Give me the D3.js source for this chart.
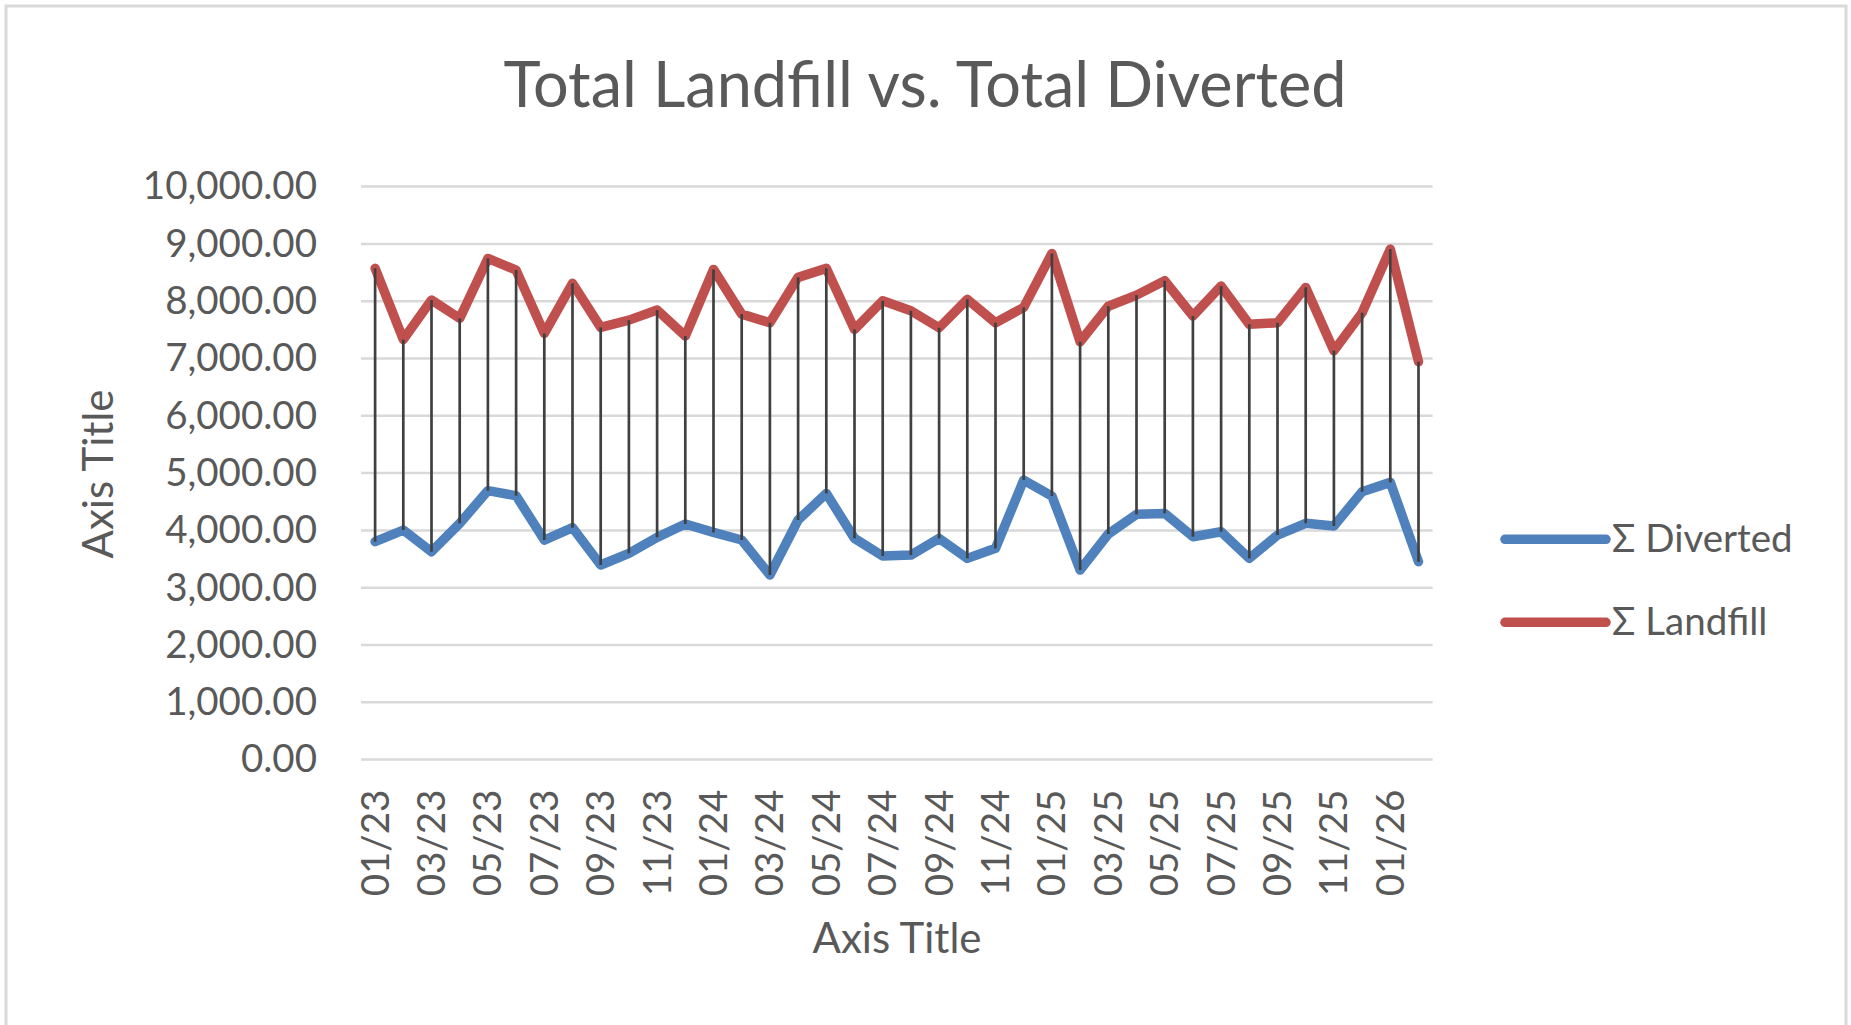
<!DOCTYPE html>
<html>
<head>
<meta charset="utf-8">
<script src="https://cdn.jsdelivr.net/npm/d3@7"></script>
<style>
  html, body { margin: 0; padding: 0; background: #fff; }
  svg { display: block; }
  text { font-family: Lato, "Open Sans", sans-serif; fill: #595959; }
</style>
</head>
<body>
<svg id="chart" width="1851" height="1025"></svg>
<script>
// ---- data ----
const months = [
  "01/23","02/23","03/23","04/23","05/23","06/23","07/23","08/23","09/23","10/23","11/23","12/23",
  "01/24","02/24","03/24","04/24","05/24","06/24","07/24","08/24","09/24","10/24","11/24","12/24",
  "01/25","02/25","03/25","04/25","05/25","06/25","07/25","08/25","09/25","10/25","11/25","12/25",
  "01/26","02/26"
];
const diverted = [
  3803, 4006, 3628, 4123, 4693, 4605, 3832, 4047, 3396, 3600, 3879, 4111,
  3965, 3832, 3221, 4181, 4646, 3861, 3553, 3570, 3861, 3512, 3687, 4879,
  4600, 3308, 3937, 4280, 4297, 3890, 3977, 3512, 3919, 4123, 4076, 4675,
  4838, 3453
];
const landfill = [
  8573, 7330, 8020, 7700, 8747, 8543, 7438, 8311, 7543, 7670, 7845, 7391,
  8555, 7775, 7624, 8416, 8573, 7508, 8008, 7833, 7537, 8032, 7624, 7892,
  8834, 7292, 7912, 8106, 8357, 7741, 8264, 7596, 7624, 8241, 7136, 7799,
  8910, 6944
];
const yTicks = [0,1000,2000,3000,4000,5000,6000,7000,8000,9000,10000];
const seriesNames = ["\u03A3 Diverted", "\u03A3 Landfill"];
const chartTitle = "Total Landfill vs. Total Diverted";
const xAxisTitle = "Axis Title";
const yAxisTitle = "Axis Title";

// ---- layout ----
const plot = { left: 361, right: 1432.6, top: 186.6, bottom: 759.6 };
const colors = { div: "#4F81BD", land: "#C0504D", grid: "#D9D9D9", drop: "#404040" };

const svg = d3.select("#chart");

// outer border
svg.append("rect")
  .attr("x", 6).attr("y", 6).attr("width", 1840).attr("height", 1030)
  .attr("fill", "#fff").attr("stroke", "#D9D9D9").attr("stroke-width", 3);

const x = d3.scaleBand().domain(months).range([plot.left, plot.right]).padding(0);
const cx = d => x(d) + x.bandwidth() / 2;
const y = d3.scaleLinear().domain([0, 10000]).range([plot.bottom, plot.top]);

// gridlines
svg.append("g").selectAll("line").data(yTicks).join("line")
  .attr("x1", plot.left).attr("x2", plot.right)
  .attr("y1", d => y(d)).attr("y2", d => y(d))
  .attr("stroke", colors.grid).attr("stroke-width", 2.5);

// y axis labels
const fmt = d3.format(",.2f");
const yAxis = d3.axisLeft(y).tickValues(yTicks).tickFormat(fmt).tickSize(0).tickPadding(0);
const yg = svg.append("g").attr("transform", `translate(317,0)`).call(yAxis);
yg.select(".domain").remove();
yg.selectAll("text").style("font-size", "38.5px").attr("fill", "#595959").attr("font-family", "Lato");

// x axis labels (every other month)
const xAxis = d3.axisBottom(x)
  .tickValues(months.filter((m, i) => i % 2 === 0))
  .tickSize(0).tickPadding(0);
const xg = svg.append("g").attr("transform", `translate(0,${plot.bottom})`).call(xAxis);
xg.select(".domain").remove();
xg.selectAll("text")
  .style("font-size", "38.5px").attr("fill", "#595959").attr("font-family", "Lato")
  .attr("text-anchor", "end")
  .attr("dy", "0.35em")
  .attr("transform", "translate(0,30) rotate(-90)")
  .attr("x", 0).attr("y", 0);

// lines
const line = d3.line().x((d, i) => cx(months[i])).y(d => y(d)).curve(d3.curveLinear);
svg.append("path").datum(diverted).attr("d", line)
  .attr("fill", "none").attr("stroke", colors.div).attr("stroke-width", 9.5)
  .attr("stroke-linejoin", "round").attr("stroke-linecap", "round");
svg.append("path").datum(landfill).attr("d", line)
  .attr("fill", "none").attr("stroke", colors.land).attr("stroke-width", 9.5)
  .attr("stroke-linejoin", "round").attr("stroke-linecap", "round");

// high-low lines
svg.append("g").selectAll("line").data(months).join("line")
  .attr("x1", d => cx(d)).attr("x2", d => cx(d))
  .attr("y1", (d, i) => y(landfill[i])).attr("y2", (d, i) => y(diverted[i]))
  .attr("stroke", colors.drop).attr("stroke-width", 2.7);

// title
svg.append("text").attr("x", 925).attr("y", 106.7).attr("text-anchor", "middle")
  .style("font-size", "63px").text(chartTitle);

// axis titles
svg.append("text").attr("x", 897).attr("y", 953).attr("text-anchor", "middle")
  .style("font-size", "42px").text(xAxisTitle);
svg.append("text").attr("transform", "translate(112.7,474) rotate(-90)").attr("text-anchor", "middle")
  .style("font-size", "42px").text(yAxisTitle);

// legend
const legend = [
  { name: seriesNames[0], color: colors.div, y: 539.3 },
  { name: seriesNames[1], color: colors.land, y: 622.3 }
];
const lg = svg.append("g");
lg.selectAll("line").data(legend).join("line")
  .attr("x1", 1505).attr("x2", 1606).attr("y1", d => d.y).attr("y2", d => d.y)
  .attr("stroke", d => d.color).attr("stroke-width", 9.5).attr("stroke-linecap", "round");
lg.selectAll("text").data(legend).join("text")
  .attr("x", 1612).attr("y", d => d.y + 13)
  .style("font-size", "38.5px").text(d => d.name);
</script>
</body>
</html>
